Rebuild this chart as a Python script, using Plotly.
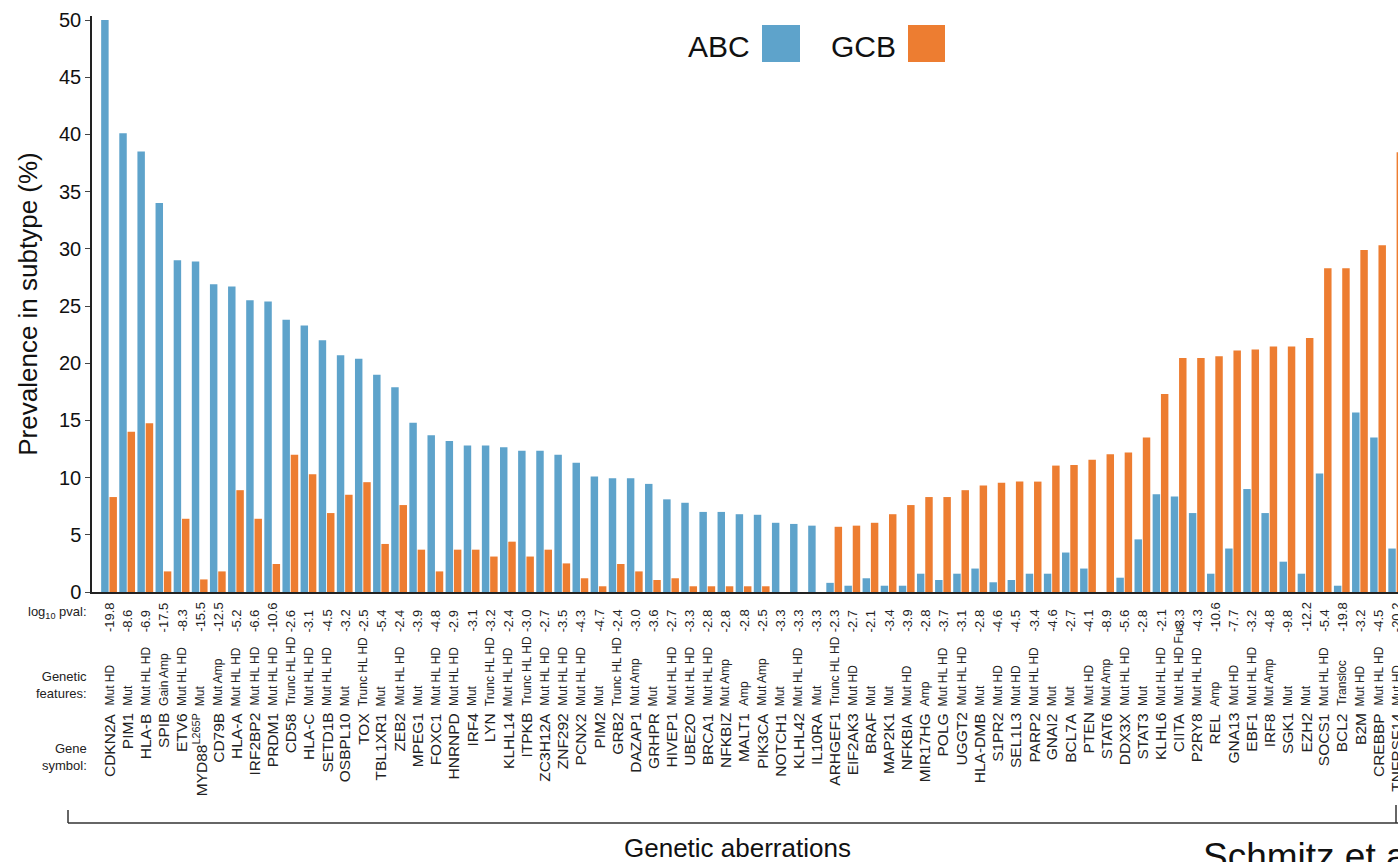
import plotly.graph_objects as go

genes = ["CDKN2A","PIM1","HLA-B","SPIB","ETV6","MYD88","CD79B","HLA-A","IRF2BP2","PRDM1",
         "CD58","HLA-C","SETD1B","OSBPL10","TOX","TBL1XR1","ZEB2","MPEG1","FOXC1","HNRNPD",
         "IRF4","LYN","KLHL14","ITPKB","ZC3H12A","ZNF292","PCNX2","PIM2","GRB2","DAZAP1",
         "GRHPR","HIVEP1","UBE2O","BRCA1","NFKBIZ","MALT1","PIK3CA","NOTCH1","KLHL42","IL10RA",
         "ARHGEF1","EIF2AK3","BRAF","MAP2K1","NFKBIA","MIR17HG","POLG","UGGT2","HLA-DMB","S1PR2",
         "SEL1L3","PARP2","GNAI2","BCL7A","PTEN","STAT6","DDX3X","STAT3","KLHL6","CIITA",
         "P2RY8","REL","GNA13","EBF1","IRF8","SGK1","EZH2","SOCS1","BCL2","B2M",
         "CREBBP","TNFRSF14"]

gene_label_override = {"MYD88": "MYD88<sup>L265P</sup>"}

features = ["Mut HD","Mut","Mut HL HD","Gain Amp","Mut HL HD","Mut","Mut Amp","Mut HL HD","Mut HL HD","Mut HL HD",
            "Trunc HL HD","Mut HL HD","Mut HL HD","Mut","Trunc HL HD","Mut","Mut HL HD","Mut","Mut HL HD","Mut HL HD",
            "Mut","Trunc HL HD","Mut HL HD","Trunc HL HD","Mut HL HD","Mut HL HD","Mut HL HD","Mut","Trunc HL HD","Mut Amp",
            "Mut","Mut HL HD","Mut HL HD","Mut HL HD","Mut Amp","Amp","Mut Amp","Mut","Mut HL HD","Mut",
            "Trunc HL HD","Mut HD","Mut","Mut","Mut HD","Amp","Mut HL HD","Mut HL HD","Mut","Mut HD",
            "Mut HD","Mut HL HD","Mut","Mut","Mut HD","Mut Amp","Mut HL HD","Mut","Mut HL HD","Mut HL HD Fus",
            "Mut HL HD","Amp","Mut HD","Mut HL HD","Mut Amp","Mut","Mut","Mut HL HD","Transloc","Mut HD",
            "Mut HL HD","Mut HD"]

log10_pval = [-19.8,-8.6,-6.9,-17.5,-8.3,-15.5,-12.5,-5.2,-6.6,-10.6,
              -2.6,-3.1,-4.5,-3.2,-2.5,-5.4,-2.4,-3.9,-4.8,-2.9,
              -3.1,-3.2,-2.4,-3.0,-2.7,-3.5,-4.3,-4.7,-2.4,-3.0,
              -3.6,-2.7,-3.3,-2.8,-2.8,-2.8,-2.5,-3.3,-3.3,-3.3,
              -2.3,-2.7,-2.1,-3.4,-3.9,-2.8,-3.7,-3.1,-2.8,-4.6,
              -4.5,-3.4,-4.6,-2.7,-4.1,-8.9,-5.6,-2.8,-2.1,-3.3,
              -4.3,-10.6,-7.7,-3.2,-4.8,-9.8,-12.2,-5.4,-19.8,-3.2,
              -4.5,-20.2]

abc = [50.0,40.1,38.5,34.0,29.0,28.9,26.9,26.7,25.5,25.4,
       23.8,23.3,22.0,20.7,20.4,19.0,17.9,14.8,13.7,13.2,
       12.8,12.8,12.65,12.35,12.35,12.0,11.3,10.1,9.95,9.95,
       9.45,8.1,7.8,7.0,7.0,6.8,6.75,6.05,5.95,5.8,
       0.8,0.55,1.2,0.55,0.55,1.6,1.05,1.6,2.05,0.85,
       1.05,1.6,1.6,3.45,2.05,0.0,1.25,4.6,8.55,8.35,
       6.9,1.6,3.8,9.0,6.9,2.65,1.6,10.35,0.55,15.7,
       13.5,3.8]

gcb = [8.3,14.0,14.75,1.8,6.4,1.1,1.8,8.9,6.4,2.45,
       12.0,10.3,6.9,8.5,9.6,4.2,7.6,3.7,1.8,3.7,
       3.7,3.1,4.4,3.1,3.7,2.5,1.2,0.5,2.45,1.8,
       1.05,1.2,0.5,0.5,0.5,0.5,0.5,0.0,0.0,0.0,
       5.7,5.8,6.05,6.8,7.6,8.3,8.3,8.9,9.3,9.55,
       9.65,9.65,11.05,11.1,11.55,12.05,12.2,13.5,17.3,20.45,
       20.45,20.6,21.1,21.2,21.45,21.45,22.2,28.3,28.3,29.9,
       30.3,38.45]

y_ticks = [0, 5, 10, 15, 20, 25, 30, 35, 40, 45, 50]

BLUE = "#5ea3cb"
ORANGE = "#ed7d31"
FONT = "Liberation Sans, Arial, Helvetica, sans-serif"

W, H = 1398, 862
L, R, T, B = 92, 0, 16, 270
PW, PH = W - L - R, H - T - B


def px_x(px):
    return (px - L) / PW


def px_y(py):
    return 1 - (py - T) / PH


fig = go.Figure()
fig.add_trace(go.Bar(x=genes, y=abc, name="ABC", marker=dict(color=BLUE, line_width=0)))
fig.add_trace(go.Bar(x=genes, y=gcb, name="GCB", marker=dict(color=ORANGE, line_width=0)))

annotations = []
for g, f, p in zip(genes, features, log10_pval):
    annotations.append(dict(x=g, xref="x", y=px_y(634), yref="paper", text=f"{p:.1f}",
                            textangle=-90, showarrow=False, xanchor="center", yanchor="bottom",
                            font=dict(family=FONT, size=13, color="#222")))
    annotations.append(dict(x=g, xref="x", y=px_y(708), yref="paper", text=f,
                            textangle=-90, showarrow=False, xanchor="center", yanchor="bottom",
                            font=dict(family=FONT, size=12, color="#222")))
    annotations.append(dict(x=g, xref="x", y=px_y(711), yref="paper",
                            text=gene_label_override.get(g, g),
                            textangle=-90, showarrow=False, xanchor="center", yanchor="top",
                            font=dict(family=FONT, size=15.5, color="#222")))

row_font = dict(family=FONT, size=13, color="#222")
annotations += [
    dict(x=px_x(89), y=px_y(612), xref="paper", yref="paper", text="log<sub>10</sub> pval:",
         showarrow=False, xanchor="right", yanchor="middle", font=row_font),
    dict(x=px_x(89), y=px_y(685), xref="paper", yref="paper", text="Genetic<br>features:",
         showarrow=False, xanchor="right", yanchor="middle", align="right", font=row_font),
    dict(x=px_x(89), y=px_y(757), xref="paper", yref="paper", text="Gene<br>symbol:",
         showarrow=False, xanchor="right", yanchor="middle", align="right", font=row_font),
    dict(x=px_x(752), y=px_y(46), xref="paper", yref="paper", text="ABC",
         showarrow=False, xanchor="right", yanchor="middle",
         font=dict(family=FONT, size=30, color="#111")),
    dict(x=px_x(898), y=px_y(46), xref="paper", yref="paper", text="GCB",
         showarrow=False, xanchor="right", yanchor="middle",
         font=dict(family=FONT, size=30, color="#111")),
    dict(x=px_x(737), y=px_y(848), xref="paper", yref="paper", text="Genetic aberrations",
         showarrow=False, xanchor="center", yanchor="middle",
         font=dict(family=FONT, size=26, color="#111")),
    dict(x=px_x(1201), y=px_y(834), xref="paper", yref="paper", text="Schmitz et al.",
         showarrow=False, xanchor="left", yanchor="top",
         font=dict(family=FONT, size=37, color="#111")),
]

shapes = [
    dict(type="rect", xref="paper", yref="paper", x0=px_x(762), x1=px_x(800),
         y0=px_y(62), y1=px_y(25), fillcolor=BLUE, line_width=0),
    dict(type="rect", xref="paper", yref="paper", x0=px_x(908), x1=px_x(945),
         y0=px_y(62), y1=px_y(25), fillcolor=ORANGE, line_width=0),
    dict(type="line", xref="paper", yref="paper", x0=px_x(68), x1=px_x(68),
         y0=px_y(810), y1=px_y(823), line=dict(color="#333", width=1.5)),
    dict(type="line", xref="paper", yref="paper", x0=px_x(68), x1=px_x(1398),
         y0=px_y(823), y1=px_y(823), line=dict(color="#333", width=1.5)),
    dict(type="line", xref="paper", yref="paper", x0=px_x(1396), x1=px_x(1396),
         y0=px_y(805), y1=px_y(823), line=dict(color="#333", width=1.5)),
]

fig.update_layout(
    width=W, height=H,
    margin=dict(l=L, r=R, t=T, b=B, autoexpand=False),
    paper_bgcolor="white", plot_bgcolor="white",
    barmode="group", bargap=0.085, bargroupgap=0.1,
    showlegend=False,
    font=dict(family=FONT, color="#111"),
    annotations=annotations,
    shapes=shapes,
)
fig.update_xaxes(type="category", range=[-0.94, 71.1], showticklabels=False, ticks="",
                 showline=True, linecolor="#222", linewidth=1.5, showgrid=False, zeroline=False)
fig.update_yaxes(range=[0, 50.35], tickvals=y_ticks, ticks="outside", ticklen=5, tickwidth=1,
                 tickcolor="#444", showline=True, linecolor="#222", linewidth=1.5,
                 showgrid=False, zeroline=False,
                 tickfont=dict(family=FONT, size=20, color="#111"),
                 title=dict(text="Prevalence in subtype (%)", standoff=14,
                            font=dict(family=FONT, size=26, color="#111")))

fig.write_html("out.html", config={"displayModeBar": False},
               post_script="document.body.style.margin='0';document.body.style.overflow='hidden';")
